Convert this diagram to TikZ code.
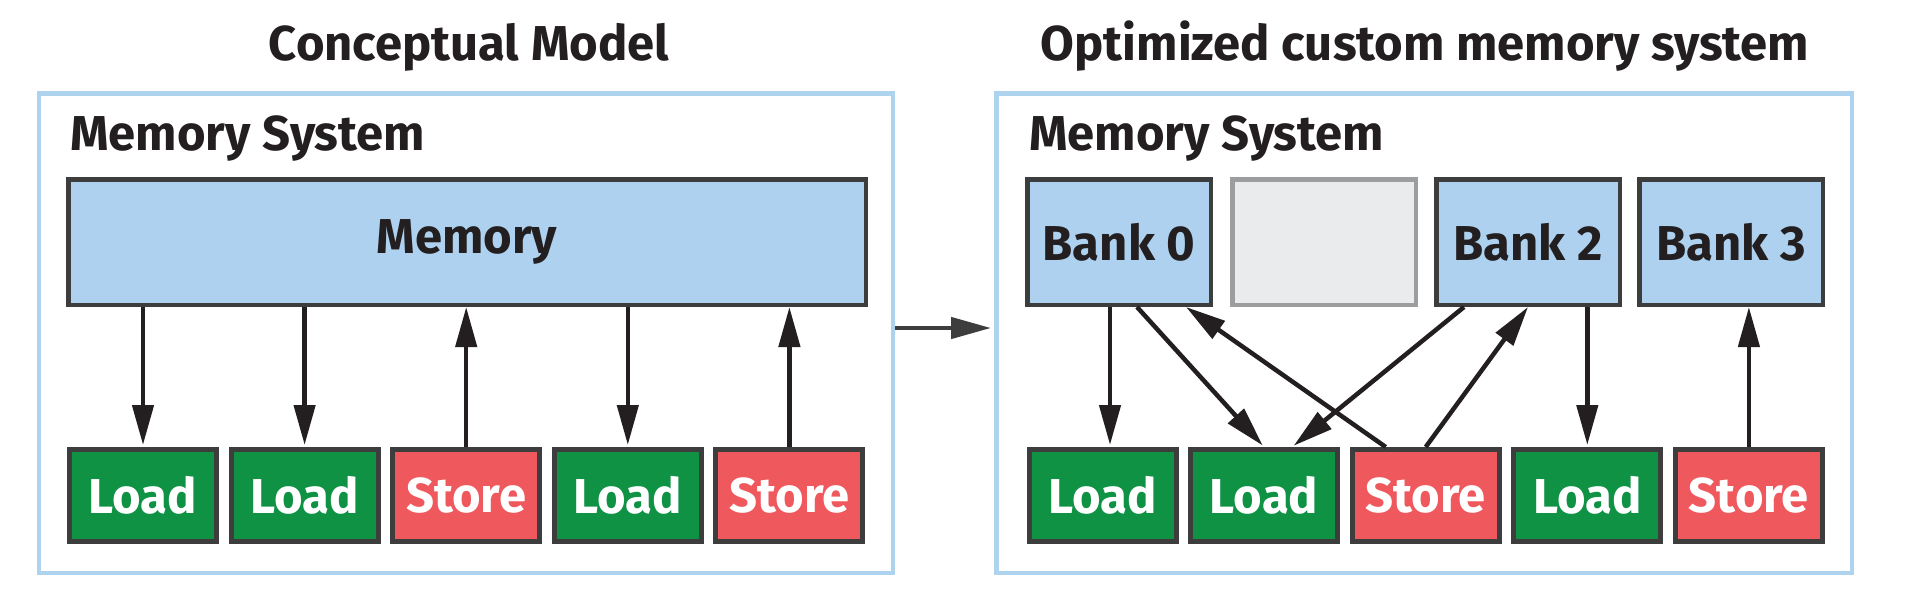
\documentclass[tikz,border=0pt]{standalone}
\usepackage{fontspec}
\setmainfont{Fira Sans}
\usetikzlibrary{arrows.meta}

\definecolor{ink}{RGB}{35,31,32}
\definecolor{edgegrey}{RGB}{61,61,61}
\definecolor{memblue}{RGB}{173,209,238}
\definecolor{frameblue}{RGB}{174,211,239}
\definecolor{ldgreen}{RGB}{16,146,69}
\definecolor{stred}{RGB}{239,88,93}
\definecolor{blankfill}{RGB}{234,235,236}
\definecolor{blankedge}{RGB}{156,157,159}

\begin{document}
\begin{tikzpicture}[
  x=1pt, y=-1pt,
  font=\fontsize{49}{58}\selectfont\bfseries,
  frm/.style={draw=frameblue, line width=4.5pt, minimum width=854pt, minimum height=479.5pt},
  bankbox/.style={draw=edgegrey, fill=memblue, line width=4.5pt, text=ink,
    minimum width=183.5pt, minimum height=125.5pt},
  opbox/.style={draw=edgegrey, line width=5pt, text=white,
    minimum width=147pt, minimum height=92pt},
  arr/.style={draw=ink, line width=4.5pt, -{Triangle[length=40pt,width=21pt]}},
]

\useasboundingbox (0,0) rectangle (1906,610);

\node [anchor=base, text=ink] (tleft) at (469,61) {Conceptual Model};
\node [anchor=base, text=ink] (tright) at (1425,61) {Optimized custom memory system};

\node [frm] (lfrm) at (466,333) {};
\node [frm, minimum width=855.5pt] (rfrm) at (1424,333) {};

\node [anchor=base west, inner sep=0, text=ink] (lms) at (70,150) {Memory System};
\node [anchor=base west, inner sep=0, text=ink] (rms) at (1029,150) {Memory System};

% conceptual model
\node [bankbox, minimum width=797.5pt] (mem) at (467,242) {Memory};

\foreach \i/\col/\txt in {1/ldgreen/Load, 2/ldgreen/Load, 3/stred/Store, 4/ldgreen/Load, 5/stred/Store}
  \node [opbox, fill=\col] (l\i) at ({143+161.6*(\i-1)},495.5) {\txt};

\foreach \i in {1,2,4}
  \draw [arr, shorten >=2pt] (mem.south -| l\i.north) -- (l\i.north);
\foreach \i in {3,5}
  \draw [arr] (l\i.north) -- (mem.south -| l\i.north);

\draw [draw=edgegrey, line width=4.5pt, -{Triangle[length=40pt,width=21pt]}, shorten >=3pt]
  ([yshift=5pt]lfrm.east) -- ([yshift=5pt]rfrm.west);

% banked memory
\node [bankbox] (b0) at (1119,242) {Bank 0};
\node [bankbox, fill=blankfill, draw=blankedge] (b1) at (1324,242) {};
\node [bankbox] (b2) at (1528,242) {Bank 2};
\node [bankbox] (b3) at (1731,242) {Bank 3};

\foreach \i/\col/\txt in {1/ldgreen/Load, 2/ldgreen/Load, 3/stred/Store, 4/ldgreen/Load, 5/stred/Store}
  \node [opbox, fill=\col] (r\i) at ({1102.5+161.6*(\i-1)},495.5) {\txt};

\draw [arr, shorten >=2pt] ([xshift=-9pt]b0.south) -- ([xshift=7.5pt]r1.north);
\draw [arr, shorten >=2pt] ([xshift=18pt]b0.south) -- (r2.north);
\draw [arr] ([xshift=-40pt]r3.north) -- ([xshift=67pt]b0.south);
\draw [arr, shorten >=2pt] ([xshift=-64pt]b2.south) -- ([xshift=28pt]r2.north);
\draw [arr] (r3.north) -- (b2.south);
\draw [arr, shorten >=2pt] (b2.south -| r4.north) -- (r4.north);
\draw [arr] (r5.north) -- (r5.north |- b3.south);

\end{tikzpicture}
\end{document}
